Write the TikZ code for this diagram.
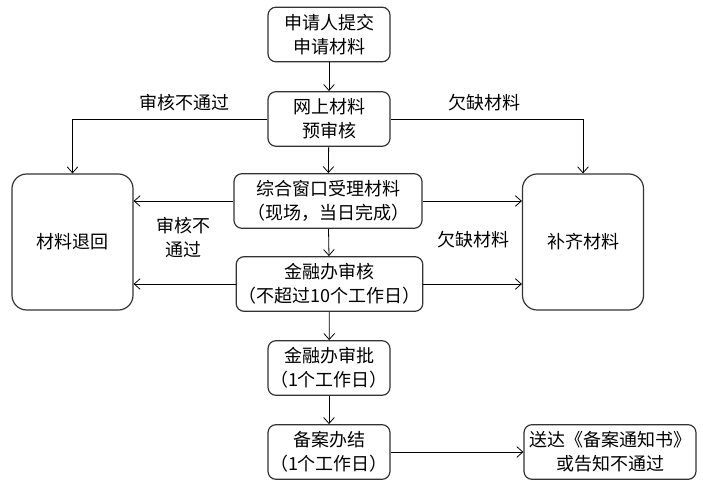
\documentclass[tikz,border=0pt]{standalone}
\usepackage{fontspec}
\setmainfont{Noto Sans CJK SC}
\usepackage{tikz}
\usetikzlibrary{arrows.meta}

\begin{document}
\begin{tikzpicture}[
            x=0.75pt, y=-0.75pt,
            every node/.style={font=\fontsize{13.5pt}{18pt}\selectfont},
            step box/.style={draw=black!80, line width=0.9pt, rounded corners=6pt,
                align=center, inner sep=0pt, minimum height=41pt,
                minimum width=#1},
            step box/.default=91.5pt,
            end box/.style={draw=black!80, line width=0.9pt, rounded corners=11pt,
                align=center, inner sep=0pt, minimum width=90.75pt,
                minimum height=102pt},
            arr/.style={-{Straight Barb[length=4.5pt,width=8pt]}, line width=0.6pt}
        ]
        \useasboundingbox (0, 0) rectangle (703, 485);
        % main column
        \node[step box] (submit) at (329, 34.5) {申请人提交\\申请材料};
        \node[step box] (precheck) at (329, 119) {网上材料\\预审核};
        \node[step box=141pt] (window) at (328, 201) {综合窗口受理材料\\（现场，当日完成）};
        \node[step box=140pt] (review) at (329.5, 284) {金融办审核\\（不超过10个工作日）};
        \node[step box] (approve) at (329, 368) {金融办审批\\（1个工作日）};
        \node[step box] (finish) at (329, 452) {备案办结\\（1个工作日）};
        % side boxes
        \node[end box] (back) at (72.5, 242) {材料退回};
        \node[end box] (supply) at (583, 242) {补齐材料};
        \node[step box=129pt] (notice) at (610, 452) {送达《备案通知书》\\或告知不通过};
        % flow
        \draw[arr] (submit) -- (precheck);
        \draw[arr] (precheck) -- (window);
        \draw[arr] (window) -- (review);
        \draw[arr] (review) -- (approve);
        \draw[arr] (approve) -- (finish);
        \draw[arr] (finish) -- (notice);
        \draw[arr] (precheck.west) -| (back.north);
        \draw[arr] (precheck.east) -| (supply.north);
        \draw[arr] (window.west) -- (window.west -| back.east);
        \draw[arr] (review.west) -- (review.west -| back.east);
        \draw[arr] (window.east) -- (window.east -| supply.west);
        \draw[arr] (review.east) -- (review.east -| supply.west);
        % labels
        \node (nopass1) at (184, 103) {审核不通过};
        \node (lack1) at (484, 103) {欠缺材料};
        \node[align=center] (nopass2) at (183, 238) {审核不\\通过};
        \node (lack2) at (473, 240) {欠缺材料};
    \end{tikzpicture}
\end{document}
